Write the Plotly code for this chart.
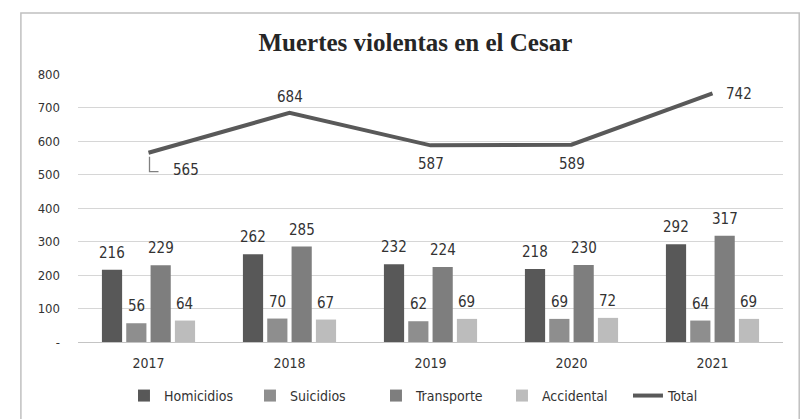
import plotly.graph_objects as go

years = ["2017", "2018", "2019", "2020", "2021"]
homicidios = [216, 262, 232, 218, 292]
suicidios = [56, 70, 62, 69, 64]
transporte = [229, 285, 224, 230, 317]
accidental = [64, 67, 69, 72, 69]
total = [565, 684, 587, 589, 742]
# label offsets (pixels) for the Total line labels
total_shift = [(37, -17), (0, 16), (0, -19), (0, -19), (26, -1)]
y_ticks = [0, 100, 200, 300, 400, 500, 600, 700, 800]
y_labels = ["-", "100", "200", "300", "400", "500", "600", "700", "800"]

series = [
    ("Homicidios", homicidios, "#585858"),
    ("Suicidios", suicidios, "#8e8e8e"),
    ("Transporte", transporte, "#7e7e7e"),
    ("Accidental", accidental, "#bcbcbc"),
]

BARGAP = 0.31
font_fam = "DejaVu Sans Condensed, Liberation Sans, sans-serif"
lab_font = dict(size=15, color="#333333", family=font_fam)
fig = go.Figure()
annotations = []
n = len(series)
slot = (1 - BARGAP) / n
for k, (name, vals, col) in enumerate(series):
    fig.add_trace(go.Bar(
        x=years, y=vals, name=name, marker=dict(color=col, line=dict(width=0)),
    ))
    off = (k - (n - 1) / 2) * slot
    for i, v in enumerate(vals):
        annotations.append(dict(x=i + off, y=v, xref="x", yref="y", text=str(v),
                                showarrow=False, yanchor="bottom", yshift=6,
                                font=lab_font))

fig.add_trace(go.Scatter(
    x=years, y=total, name="Total", mode="lines",
    line=dict(color="#595959", width=4),
))
for i, (v, (dx, dy)) in enumerate(zip(total, total_shift)):
    annotations.append(dict(x=i, y=v, xref="x", yref="y", text=str(v), showarrow=False,
                            xshift=dx, yshift=dy, font=lab_font))

fig.update_layout(
    width=805, height=419,
    paper_bgcolor="white", plot_bgcolor="white",
    margin=dict(l=78, r=22, t=74, b=77),
    barmode="group", bargap=BARGAP, bargroupgap=0.17,
    title=dict(text="<b>Muertes violentas en el Cesar</b>", x=0.516, xanchor="center",
               y=0.9, yanchor="middle",
               font=dict(family="Liberation Serif, DejaVu Serif, serif", size=25, color="#262626")),
    font=dict(family=font_fam, color="#333333", size=13),
    showlegend=True,
    legend=dict(orientation="h", x=0.154, xanchor="left", xref="container",
                y=0.055, yanchor="middle", yref="container",
                font=dict(size=14, color="#333333"), entrywidth=81,
                traceorder="normal"),
    xaxis=dict(type="category", showgrid=False, showline=True, linecolor="#c4c4c4", linewidth=1,
               ticks="", ticklabelstandoff=8,
               tickfont=dict(size=14, color="#333333"), automargin=False),
    yaxis=dict(range=[0, 800], tickvals=y_ticks, ticktext=y_labels,
               showgrid=True, gridcolor="#d6d6d6", gridwidth=1, zeroline=False,
               showline=False, ticks="", ticklabelstandoff=17, automargin=False,
               tickfont=dict(size=13, color="#333333")),
    annotations=annotations,
)

# outer frame
fig.add_shape(type="rect", xref="paper", yref="paper", layer="above",
              x0=-0.081, x1=1.023, y0=-0.3, y1=1.228,
              line=dict(color="#c0c0c0", width=1.5), fillcolor="rgba(0,0,0,0)")

# leader line for the first total label
fig.add_shape(
    type="path", xref="x", yref="y", xsizemode="pixel", ysizemode="pixel",
    xanchor=0, yanchor=total[0], layer="above",
    path="M 1 -4 L 1 -19 L 10 -19",
    line=dict(color="#808080", width=1.3),
)

fig.write_html("out.html", config={"displayModeBar": False},
               post_script="document.body.style.margin='0px';")
